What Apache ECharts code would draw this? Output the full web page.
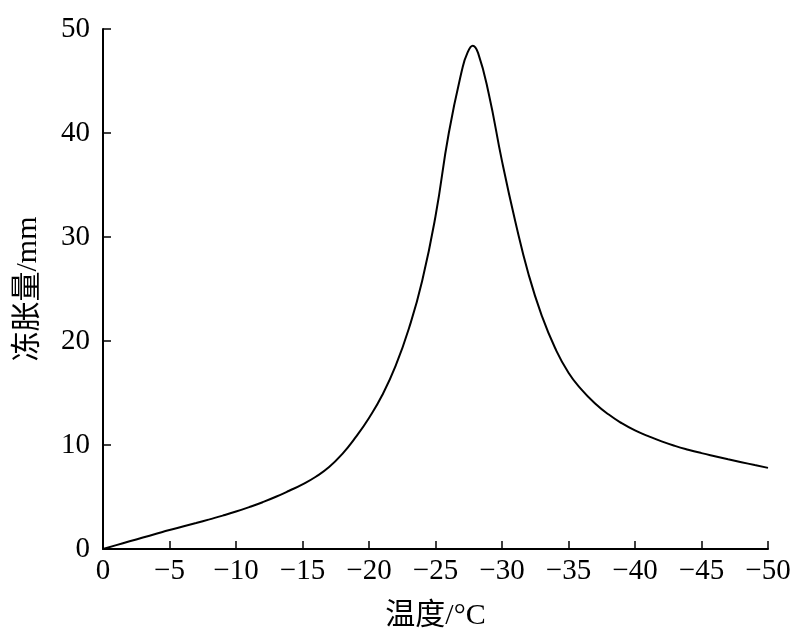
<!DOCTYPE html>
<html>
<head>
<meta charset="utf-8">
<script src="https://cdn.jsdelivr.net/npm/echarts@6/dist/echarts.min.js"></script>
<style>html,body{margin:0;padding:0;background:#fff;}#c{width:806px;height:643px;}</style>
</head>
<body>
<div id="c"></div>
<script>
const temps = [0,-1,-2,-3,-4,-5,-6,-7,-8,-9,-10,-11,-12,-13,-14,-15,-16,-17,-18,-19,-20,-21,-22,-23,-24,-25,-26,-27,-27.4,-27.8,-28.2,-29,-30,-31,-32,-33,-34,-35,-36,-37,-38,-39,-40,-41,-42,-43,-44,-45,-46,-47,-48,-49,-50];
const heave = [0,0.37,0.74,1.1,1.46,1.82,2.16,2.5,2.85,3.21,3.6,4.03,4.5,5.02,5.6,6.22,6.95,7.88,9.15,10.75,12.6,14.8,17.6,21.2,25.8,32.0,40.0,46.1,47.7,48.4,47.7,43.8,37.3,31.5,26.4,22.4,19.3,16.95,15.3,14.0,12.95,12.1,11.4,10.85,10.35,9.92,9.55,9.22,8.92,8.63,8.35,8.07,7.8];
const xTicks = [0,-5,-10,-15,-20,-25,-30,-35,-40,-45,-50];
const yTicks = [0,10,20,30,40,50];
const xName = '温度/°C';
const yName = '冻胀量/mm';

const font = '"Liberation Serif","Times New Roman","Noto Sans CJK SC",serif';
const chart = echarts.init(document.getElementById('c'));
chart.setOption({
  animation:false,
  backgroundColor:'#fff',
  grid:{left:103,right:38,top:29,bottom:94,containLabel:false},
  xAxis:{
    type:'value', inverse:true, min:xTicks[xTicks.length-1], max:xTicks[0], interval:5,
    name:xName, nameLocation:'middle', nameGap:52,
    nameTextStyle:{fontFamily:font,fontSize:30,color:'#000'},
    axisLine:{lineStyle:{color:'#000',width:2}},
    axisTick:{inside:true,length:8,lineStyle:{color:'#000',width:1.5}},
    axisLabel:{fontFamily:font,fontSize:29,color:'#000',margin:8,
      formatter:v=> v<0 ? '\u2212'+(-v) : String(v)},
    splitLine:{show:false}
  },
  yAxis:{
    type:'value', min:yTicks[0], max:yTicks[yTicks.length-1], interval:10,
    name:yName, nameLocation:'middle', nameGap:60, nameRotate:90,
    nameTextStyle:{fontFamily:font,fontSize:30,color:'#000'},
    axisLine:{show:true,lineStyle:{color:'#000',width:2}},
    axisTick:{show:true,inside:true,length:8,lineStyle:{color:'#000',width:1.5}},
    axisLabel:{fontFamily:font,fontSize:29,color:'#000',margin:13},
    splitLine:{show:false}
  },
  series:[{
    type:'line', data:temps.map((t,i)=>[t,heave[i]]), smooth:0.5, symbol:'none',
    lineStyle:{color:'#000',width:2}
  }]
});
</script>
</body>
</html>
